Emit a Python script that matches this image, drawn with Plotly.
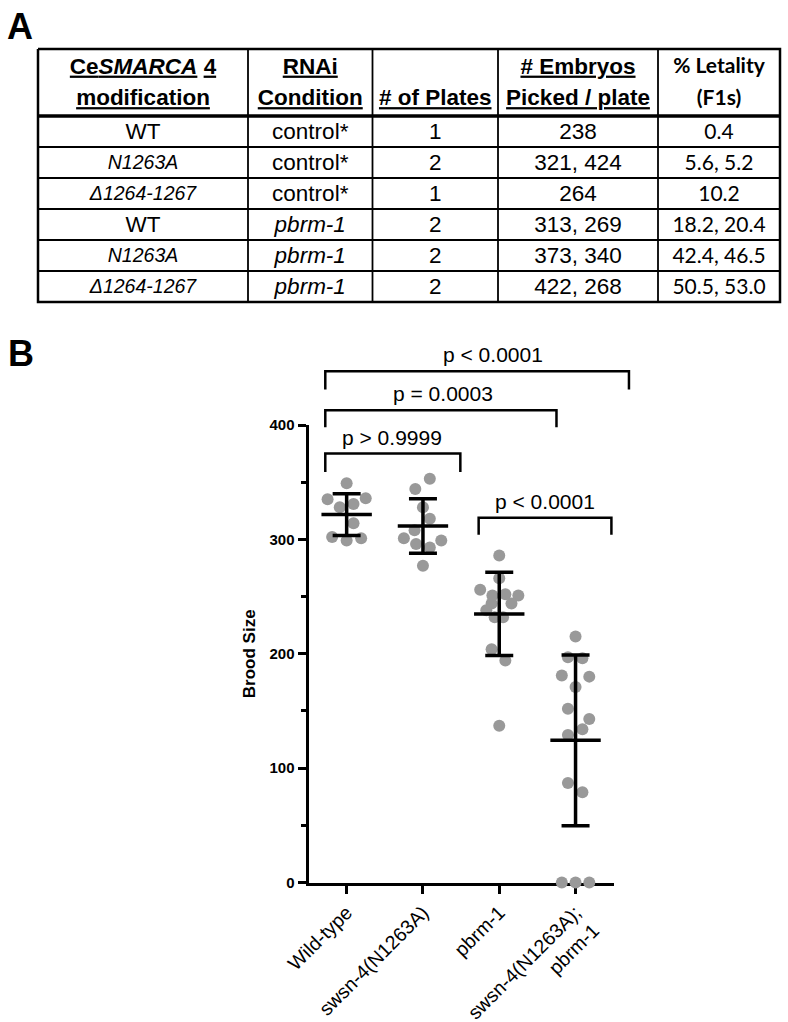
import numpy as np
import plotly.graph_objects as go

# ---------------- Panel A: table data ----------------
header_line1 = ["<b><u>Ce<i>SMARCA</i></u> <u>4</u></b>", "<b><u>RNAi</u></b>", "",
                "<b><u># Embryos</u></b>", "<b>% Letality</b>"]
header_line2 = ["<b><u>modification</u></b>", "<b><u>Condition</u></b>", "<b><u># of Plates</u></b>",
                "<b><u>Picked / plate</u></b>", "<b>(F1s)</b>"]
modification = ["WT", "N1263A", "Δ1264-1267", "WT", "N1263A", "Δ1264-1267"]
rnai_condition = ["control*", "control*", "control*", "pbrm-1", "pbrm-1", "pbrm-1"]
n_plates = ["1", "2", "1", "2", "2", "2"]
embryos_per_plate = ["238", "321, 424", "264", "313, 269", "373, 340", "422, 268"]
letality_f1 = ["0.4", "5.6, 5.2", "10.2", "18.2, 20.4", "42.4, 46.5", "50.5, 53.0"]

# ---------------- Panel B: brood size data ----------------
groups = ["Wild-type", "swsn-4(N1263A)", "pbrm-1", "swsn-4(N1263A);<br>pbrm-1"]
brood_wt = [349, 335, 336, 328, 331, 314, 302, 299, 301]
brood_swsn4 = [353, 344, 328, 318, 308, 301, 299, 296, 293, 277]
brood_pbrm1 = [286, 266, 256, 251, 252, 251, 244, 244, 238, 232, 232, 204, 194, 137]
brood_double = [215, 197, 196, 181, 180, 171, 152, 143, 134, 129, 87, 79, 0, 0, 0]
# horizontal scatter offsets of each dot (category units)
dx_wt = [0, -0.25, 0.25, -0.09, 0.09, 0.09, -0.19, 0, 0.19]
dx_swsn4 = [0.09, -0.10, 0, 0.09, -0.11, -0.25, 0.24, -0.09, 0.09, 0]
dx_pbrm1 = [0, 0, -0.25, -0.09, 0.08, 0.25, 0.16, -0.10, -0.17, -0.06, 0.05, -0.10, 0.08, 0]
dx_double = [0, -0.10, 0.09, -0.18, 0.18, 0, -0.10, 0.18, 0.09, -0.10, -0.10, 0.09, -0.18, 0, 0.18]
y_ticks = [0, 100, 200, 300, 400]

# comparison brackets: left x, right x, bar y, leg-end y, label, label x
comparisons = [
    (-0.28, 1.49, 375, 359, "p > 0.9999", 0.60),
    (-0.28, 2.75, 413, 398, "p = 0.0003", 1.26),
    (-0.28, 3.70, 447, 431, "p < 0.0001", 1.92),
    (1.73, 3.47, 319, 304, "p < 0.0001", 2.60),
]

# ---------------- layout geometry (pixels) ----------------
W, H = 788, 1022
FONT = "Liberation Sans, Arial, sans-serif"
px_left, px_right = 308.5, 613.7
px_top, px_bottom = 425.0, 882.5
x_range = [-0.5, 3.5]
y_range = [0, 400]
ppx = (px_right - px_left) / (x_range[1] - x_range[0])
ppy = (px_bottom - px_top) / (y_range[1] - y_range[0])
x2_range = [-0.5, 4.0]
y2_range = [0, 480]

# table frame: column widths / row heights in px, drawn on its own hidden axes
tbl_left, tbl_top = 38, 49
col_widths = [210, 124.5, 125.5, 160, 122]
header_h, row_h = 67, 31
n_rows = len(modification)
tbl_w = sum(col_widths)
tbl_h = header_h + row_h * n_rows
pad = 4

fig = go.Figure()

# ---------- table ----------
col_edges = np.concatenate([[0], np.cumsum(col_widths)])
row_edges = [0] + [header_h + row_h * k for k in range(n_rows + 1)]
col_cent = (col_edges[:-1] + col_edges[1:]) / 2

thin_x, thin_y = [], []
for xe in col_edges[1:-1]:
    thin_x += [xe, xe, None]
    thin_y += [0, tbl_h, None]
for ye in row_edges[2:-1]:
    thin_x += [0, tbl_w, None]
    thin_y += [ye, ye, None]
fig.add_trace(go.Scatter(x=thin_x, y=thin_y, xaxis="x3", yaxis="y3", mode="lines",
                         line=dict(color="black", width=1.8), hoverinfo="skip", showlegend=False))
fig.add_trace(go.Scatter(x=[0, tbl_w, tbl_w, 0, 0], y=[0, 0, tbl_h, tbl_h, 0], xaxis="x3", yaxis="y3",
                         mode="lines", line=dict(color="black", width=2.5), hoverinfo="skip",
                         showlegend=False))
fig.add_trace(go.Scatter(x=[0, tbl_w], y=[header_h, header_h], xaxis="x3", yaxis="y3",
                         mode="lines", line=dict(color="black", width=3.5), hoverinfo="skip",
                         showlegend=False))

columns = [
    [m if m == "WT" else f"<i>{m}</i>" for m in modification],
    [r if r.startswith("control") else f"<i>{r}</i>" for r in rnai_condition],
    n_plates, embryos_per_plate, letality_f1,
]
tx, ty, tt, tf, ts = [], [], [], [], []
last = len(col_widths) - 1
for j in range(len(col_widths)):
    fam = "Lato" if j == last else FONT
    for txt, yy in ((header_line1[j], 19), (header_line2[j], 50.5)):
        if txt:
            tx.append(col_cent[j]); ty.append(yy); tt.append(txt)
            tf.append(fam); ts.append(21 if j == last else 22.5)
    for k, txt in enumerate(columns[j]):
        tx.append(col_cent[j]); ty.append(header_h + row_h * (k + 0.5) + 2)
        tt.append(txt); tf.append(fam)
        if j == last:
            ts.append(21)
        elif j == 0 and txt != "WT":
            ts.append(19.5)
        else:
            ts.append(22.5)
fig.add_trace(go.Scatter(x=tx, y=ty, text=tt, xaxis="x3", yaxis="y3", mode="text",
                         textposition="middle center", cliponaxis=False,
                         textfont=dict(family=tf, size=ts, color="black"),
                         hoverinfo="skip", showlegend=False))

# ---------- panel B ----------
series = [brood_wt, brood_swsn4, brood_pbrm1, brood_double]
offsets = [dx_wt, dx_swsn4, dx_pbrm1, dx_double]
for i, (vals, dxs) in enumerate(zip(series, offsets)):
    fig.add_trace(go.Scatter(
        x=[i + d for d in dxs], y=vals, mode="markers",
        marker=dict(color="#999999", size=12, line=dict(width=0)),
        cliponaxis=False, showlegend=False, hoverinfo="y",
    ))

means = [float(np.mean(v)) for v in series]
sds = [float(np.std(v, ddof=1)) for v in series]
fig.add_trace(go.Scatter(
    x=list(range(len(groups))), y=means, mode="markers",
    marker=dict(symbol="line-ew", size=36, color="black", line=dict(color="black", width=3.5)),
    error_y=dict(type="data", array=sds, visible=True, color="black", thickness=3.5, width=14),
    cliponaxis=False, showlegend=False,
))

bx, by = [], []
for (xl, xr_, ytop, yleg, label, lx) in comparisons:
    bx += [xl, xl, xr_, xr_, None]
    by += [yleg, ytop, ytop, yleg, None]
fig.add_trace(go.Scatter(
    x=bx, y=by, xaxis="x2", yaxis="y2", mode="lines",
    line=dict(color="black", width=2.5), showlegend=False, hoverinfo="skip",
))

annotations = []
for (xl, xr_, ytop, yleg, label, lx) in comparisons:
    annotations.append(dict(
        x=lx, y=ytop, xref="x2", yref="y2", text=label, showarrow=False,
        yanchor="bottom", xanchor="center", yshift=3,
        font=dict(family=FONT, size=21, color="black"),
    ))
annotations.append(dict(x=5 / W, y=1 - 4 / H, xref="paper", yref="paper", text="<b>A</b>",
                        showarrow=False, xanchor="left", yanchor="top",
                        font=dict(family=FONT, size=36, color="black")))
annotations.append(dict(x=6 / W, y=1 - 331 / H, xref="paper", yref="paper", text="<b>B</b>",
                        showarrow=False, xanchor="left", yanchor="top",
                        font=dict(family=FONT, size=36, color="black")))

fig.update_layout(
    template="none",
    width=W, height=H, autosize=False,
    margin=dict(l=0, r=0, t=0, b=0, pad=0),
    paper_bgcolor="white", plot_bgcolor="rgba(0,0,0,0)",
    font=dict(family=FONT, color="black"),
    showlegend=False,
    xaxis=dict(
        domain=[px_left / W, px_right / W], range=x_range, anchor="y", automargin=False,
        tickvals=list(range(len(groups))), ticktext=groups, tickangle=-45,
        tickfont=dict(family=FONT, size=19.5, color="black"),
        showline=True, linecolor="black", linewidth=3,
        ticks="outside", ticklen=8, tickwidth=3, tickcolor="black",
        showgrid=False, zeroline=False, layer="below traces",
    ),
    yaxis=dict(
        domain=[1 - px_bottom / H, 1 - px_top / H], range=y_range, anchor="x", automargin=False,
        tickvals=y_ticks, tickfont=dict(family=FONT, size=15, color="black", weight="bold"),
        showline=True, linecolor="black", linewidth=3,
        ticks="outside", ticklen=8, tickwidth=3, tickcolor="black",
        minor=dict(dtick=50, ticks="outside", ticklen=5, tickwidth=2.5, tickcolor="black", showgrid=False),
        showgrid=False, zeroline=False, layer="below traces",
        title=dict(text="<b>Brood Size</b>", font=dict(family=FONT, size=17, color="black"), standoff=10),
    ),
    xaxis2=dict(
        domain=[px_left / W, (px_left + (x2_range[1] - x2_range[0]) * ppx) / W],
        range=x2_range, anchor="y2", visible=False, fixedrange=True, automargin=False,
    ),
    yaxis2=dict(
        domain=[1 - px_bottom / H, 1 - (px_bottom - (y2_range[1] - y2_range[0]) * ppy) / H],
        range=y2_range, anchor="x2", visible=False, fixedrange=True, automargin=False,
    ),
    xaxis3=dict(
        domain=[(tbl_left - pad) / W, (tbl_left + tbl_w + pad) / W],
        range=[-pad, tbl_w + pad], anchor="y3", visible=False, fixedrange=True, automargin=False,
    ),
    yaxis3=dict(
        domain=[1 - (tbl_top + tbl_h + pad) / H, 1 - (tbl_top - pad) / H],
        range=[tbl_h + pad, -pad], anchor="x3", visible=False, fixedrange=True, automargin=False,
    ),
    annotations=annotations,
)

fig.write_html("out.html", config={"displayModeBar": False},
               post_script="document.body.style.margin='0';")
